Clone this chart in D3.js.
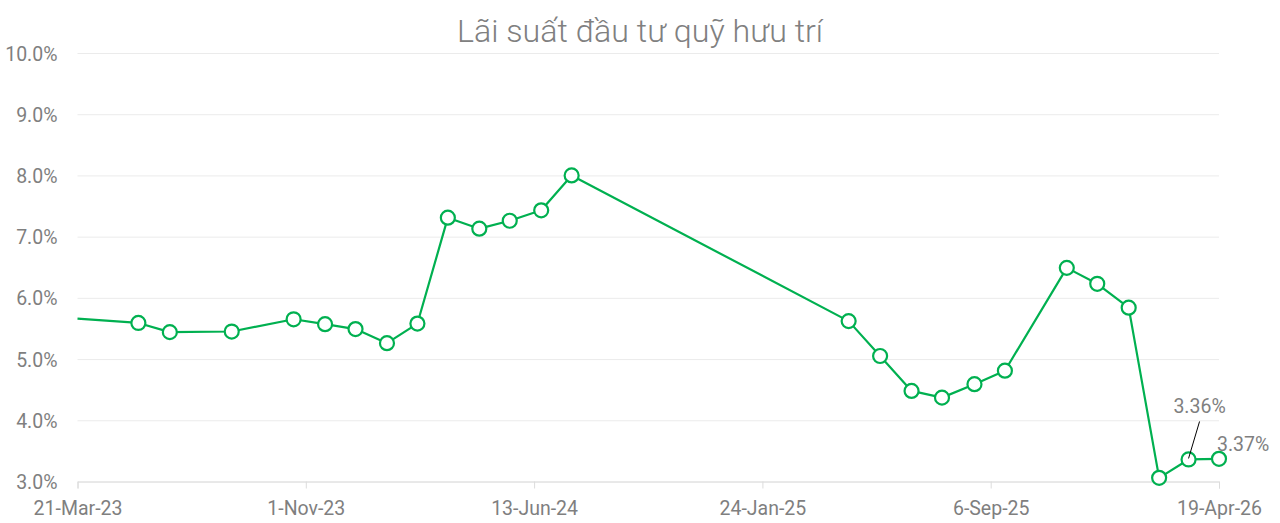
<!DOCTYPE html>
<html>
<head>
<meta charset="utf-8">
<script src="https://cdn.jsdelivr.net/npm/d3@7"></script>
<style>
  body { margin: 0; background: #fff; }
  svg { display: block; }
  .tick text { font-family: Roboto, sans-serif; fill: #7f7f7f; }
</style>
</head>
<body>
<svg id="chart" width="1280" height="523"></svg>
<script>
// Data
let dates = [
  "2023-03-21", "2023-05-20", "2023-06-20", "2023-08-20", "2023-10-20",
  "2023-11-20", "2023-12-20", "2024-01-20", "2024-02-19", "2024-03-20",
  "2024-04-20", "2024-05-20", "2024-06-20", "2024-07-20", "2025-04-19",
  "2025-05-20", "2025-06-20", "2025-07-20", "2025-08-21", "2025-09-20",
  "2025-11-20", "2025-12-20", "2026-01-20", "2026-02-19", "2026-03-20",
  "2026-04-19"
];
let rates = [
  5.66, 5.59, 5.44, 5.45, 5.65,
  5.57, 5.49, 5.26, 5.58, 7.31,
  7.13, 7.26, 7.43, 8.00, 5.62,
  5.05, 4.48, 4.37, 4.59, 4.81,
  6.49, 6.23, 5.84, 3.06, 3.36,
  3.37
];
let labelled = [24, 25]; // indexes with data labels
let yTicks = [3, 4, 5, 6, 7, 8, 9, 10];
let xTickLabels = ["21-Mar-23", "1-Nov-23", "13-Jun-24", "24-Jan-25", "6-Sep-25", "19-Apr-26"];
let title = "Lãi suất đầu tư quỹ hưu trí";

let parseDate = d3.timeParse("%Y-%m-%d");
let points = dates.map(function(d, i){ return { date: parseDate(d), value: rates[i] }; });

let svg = d3.select("#chart");
let margin = { left: 77.5, right: 61, top: 53, bottom: 41.5 };
let width = 1280, height = 523;
let green = "#00b050";
let fontSize = "19.5px";

let x = d3.scaleTime()
  .domain([parseDate("2023-03-21"), parseDate("2026-04-19")])
  .range([margin.left, width - margin.right]);
let y = d3.scaleLinear()
  .domain([3, 10])
  .range([height - margin.bottom, margin.top]);

// Title
svg.append("text")
  .attr("x", 457)
  .attr("y", 42)
  .attr("textLength", 366)
  .attr("lengthAdjust", "spacingAndGlyphs")
  .style("font-family", "Roboto, sans-serif")
  .style("font-weight", 300)
  .style("font-size", "31px")
  .style("fill", "#808080")
  .text(title);

// Y grid + labels
let yAxis = d3.axisLeft(y)
  .tickValues(yTicks)
  .tickSize(-(width - margin.left - margin.right))
  .tickPadding(20)
  .tickFormat(function(d){ return d3.format(".1f")(d) + "%"; });
svg.append("g")
  .attr("transform", "translate(" + margin.left + ",0)")
  .call(yAxis)
  .call(function(g){
    g.select(".domain").remove();
    g.selectAll(".tick line").attr("stroke", "#ebebeb").attr("stroke-width", 1);
    g.selectAll(".tick text").style("font-size", fontSize).attr("dy", "0.36em");
  });

// X axis
let xTickDates = xTickLabels.map(function(s){ return d3.timeParse("%d-%b-%y")(s); });
let xAxis = d3.axisBottom(x)
  .tickValues(xTickDates)
  .tickSize(7)
  .tickPadding(13)
  .tickFormat(function(d, i){ return xTickLabels[i]; });
svg.append("g")
  .attr("transform", "translate(0," + (height - margin.bottom) + ")")
  .call(xAxis)
  .call(function(g){
    g.select(".domain").attr("stroke", "#dcdcdc");
    g.selectAll(".tick line").attr("stroke", "#dcdcdc");
    g.selectAll(".tick text").style("font-size", fontSize);
  });

// Line
let line = d3.line()
  .x(function(d){ return x(d.date); })
  .y(function(d){ return y(d.value); });
svg.append("path")
  .datum(points)
  .attr("fill", "none")
  .attr("stroke", green)
  .attr("stroke-width", 2.2)
  .attr("stroke-linejoin", "round")
  .attr("d", line);

// Markers (first point has none)
svg.append("g")
  .selectAll("circle")
  .data(points.slice(1))
  .enter().append("circle")
    .attr("cx", function(d){ return x(d.date); })
    .attr("cy", function(d){ return y(d.value); })
    .attr("r", 7)
    .attr("fill", "#fff")
    .attr("stroke", green)
    .attr("stroke-width", 2.2);

// Data labels
let p1 = points[labelled[0]], p2 = points[labelled[1]];
svg.append("line")
  .attr("x1", x(p1.date) + 11)
  .attr("y1", y(p1.value) - 38)
  .attr("x2", x(p1.date))
  .attr("y2", y(p1.value) - 1)
  .attr("stroke", "#000")
  .attr("stroke-width", 1);
svg.append("text")
  .attr("x", x(p1.date) + 11)
  .attr("y", y(p1.value) - 46)
  .attr("text-anchor", "middle")
  .style("font-family", "Roboto, sans-serif")
  .style("font-size", fontSize)
  .style("fill", "#7f7f7f")
  .text(d3.format(".2f")(p1.value) + "%");
svg.append("text")
  .attr("x", x(p2.date) - 2)
  .attr("y", y(p2.value) - 8)
  .attr("text-anchor", "start")
  .style("font-family", "Roboto, sans-serif")
  .style("font-size", fontSize)
  .style("fill", "#7f7f7f")
  .text(d3.format(".2f")(p2.value) + "%");
</script>
</body>
</html>
